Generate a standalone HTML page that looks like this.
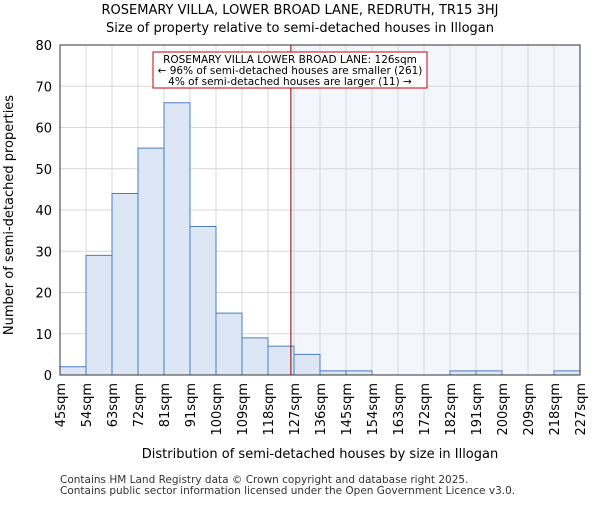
<!DOCTYPE html>
<html><head><meta charset="utf-8"><style>body{margin:0;background:#fff}svg{font-family:"DejaVu Sans","Liberation Sans",sans-serif}</style></head>
<body>
<svg id="c" width="600" height="500"></svg>
<script>
const binLabels=["45sqm","54sqm","63sqm","72sqm","81sqm","91sqm","100sqm","109sqm","118sqm","127sqm","136sqm","145sqm","154sqm","163sqm","172sqm","182sqm","191sqm","200sqm","209sqm","218sqm","227sqm"];
const counts=[2,29,44,55,66,36,15,9,7,5,1,1,0,0,0,1,1,0,0,1];
const yTicks=[0,10,20,30,40,50,60,70,80];
const markerBin=8.88;
const NS="http://www.w3.org/2000/svg";
const svg=document.getElementById('c');
const L=60,R=580,T=45,B=375;
const nb=counts.length;
const x=i=>L+(R-L)*i/nb;
const y=v=>B-(B-T)*v/80;
function mk(t,a,txt){const e=document.createElementNS(NS,t);for(const k in a)e.setAttribute(k,a[k]);if(txt!=null)e.textContent=txt;svg.appendChild(e);return e;}
let e;
e=mk('rect',{x:x(markerBin),y:T,width:R-x(markerBin),height:B-T,fill:'#f3f6fd'});


for(let i=0;i<=nb;i++){e=mk('line',{x1:x(i),x2:x(i),y1:T,y2:B,stroke:'#d8d8d8'});

}
yTicks.forEach(t=>{e=mk('line',{x1:L,x2:R,y1:y(t),y2:y(t),stroke:'#d8d8d8'});


e=mk('text',{x:L-8,y:y(t)+5,'text-anchor':'end','font-size':13},t);

});
counts.forEach((v,i)=>{if(v<=0)return;e=mk('rect',{x:x(i),y:y(v),width:x(i+1)-x(i),height:B-y(v),fill:'#dce6f5',stroke:'#4a7ec0','stroke-width':1});

});
binLabels.forEach((s,i)=>{e=mk('text',{transform:`translate(${x(i)+5},${B+8}) rotate(-90)`,'text-anchor':'end','font-size':13},s);

});
e=mk('rect',{x:L,y:T,width:R-L,height:B-T,fill:'none',stroke:'#333'});


e=mk('line',{x1:x(markerBin),x2:x(markerBin),y1:T,y2:B,stroke:'#800','stroke-width':1});


e=mk('rect',{x:153,y:52,width:274,height:36,fill:'#fff',stroke:'#c00'});


[["ROSEMARY VILLA LOWER BROAD LANE: 126sqm",63],["← 96% of semi-detached houses are smaller (261)",74],["4% of semi-detached houses are larger (11) →",85]].forEach(a=>{e=mk('text',{x:290,y:a[1],'text-anchor':'middle','font-size':10.5},a[0]);

});
e=mk('text',{x:300,y:14,'text-anchor':'middle','font-size':13},"ROSEMARY VILLA, LOWER BROAD LANE, REDRUTH, TR15 3HJ");


e=mk('text',{x:300,y:32,'text-anchor':'middle','font-size':13},"Size of property relative to semi-detached houses in Illogan");


e=mk('text',{x:320,y:458,'text-anchor':'middle','font-size':13},"Distribution of semi-detached houses by size in Illogan");


e=mk('text',{transform:'translate(13,215) rotate(-90)','text-anchor':'middle','font-size':13},"Number of semi-detached properties");


e=mk('text',{x:60,y:483,'font-size':10.5,fill:'#333'},"Contains HM Land Registry data © Crown copyright and database right 2025.");


e=mk('text',{x:60,y:494,'font-size':10.5,fill:'#333'},"Contains public sector information licensed under the Open Government Licence v3.0.");


</script>
</body></html>
